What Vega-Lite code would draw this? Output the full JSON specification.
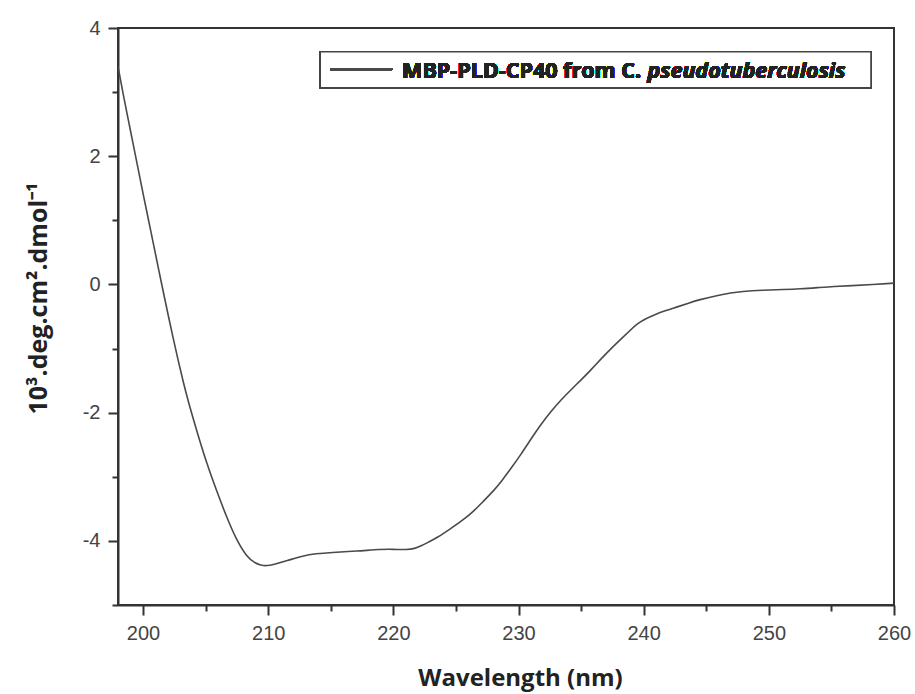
{
  "$schema": "https://vega.github.io/schema/vega-lite/v6.json",
  "width": 776,
  "height": 577,
  "autosize": "none",
  "padding": {"left": 118, "top": 28, "right": 21, "bottom": 89},
  "background": "white",
  "config": {
    "view": {"stroke": "#333333", "strokeWidth": 2},
    "axis": {"grid": false}
  },
  "data": {
    "values": [
      {"wavelength": 198.0, "value": 3.40},
      {"wavelength": 198.4, "value": 2.98},
      {"wavelength": 198.8, "value": 2.59},
      {"wavelength": 199.2, "value": 2.20},
      {"wavelength": 199.6, "value": 1.81},
      {"wavelength": 200.0, "value": 1.42},
      {"wavelength": 200.4, "value": 1.04},
      {"wavelength": 200.8, "value": 0.66},
      {"wavelength": 201.2, "value": 0.28},
      {"wavelength": 201.6, "value": -0.10},
      {"wavelength": 202.0, "value": -0.47},
      {"wavelength": 202.4, "value": -0.83},
      {"wavelength": 202.8, "value": -1.18},
      {"wavelength": 203.2, "value": -1.51},
      {"wavelength": 203.6, "value": -1.82},
      {"wavelength": 204.3, "value": -2.29},
      {"wavelength": 205.1, "value": -2.80},
      {"wavelength": 205.9, "value": -3.23},
      {"wavelength": 206.7, "value": -3.64},
      {"wavelength": 207.5, "value": -4.00},
      {"wavelength": 208.3, "value": -4.25},
      {"wavelength": 208.9, "value": -4.34},
      {"wavelength": 209.4, "value": -4.38},
      {"wavelength": 209.9, "value": -4.39},
      {"wavelength": 210.4, "value": -4.37},
      {"wavelength": 211.5, "value": -4.31},
      {"wavelength": 212.8, "value": -4.23},
      {"wavelength": 213.8, "value": -4.20},
      {"wavelength": 215.0, "value": -4.18},
      {"wavelength": 217.1, "value": -4.16},
      {"wavelength": 219.0, "value": -4.13},
      {"wavelength": 220.0, "value": -4.13},
      {"wavelength": 221.1, "value": -4.14},
      {"wavelength": 221.7, "value": -4.12},
      {"wavelength": 222.2, "value": -4.08},
      {"wavelength": 222.8, "value": -4.02},
      {"wavelength": 223.5, "value": -3.95},
      {"wavelength": 224.5, "value": -3.82},
      {"wavelength": 225.6, "value": -3.67},
      {"wavelength": 226.4, "value": -3.54},
      {"wavelength": 227.2, "value": -3.38},
      {"wavelength": 228.0, "value": -3.22},
      {"wavelength": 228.6, "value": -3.08},
      {"wavelength": 229.4, "value": -2.87},
      {"wavelength": 230.2, "value": -2.65},
      {"wavelength": 231.0, "value": -2.41},
      {"wavelength": 231.8, "value": -2.18},
      {"wavelength": 232.6, "value": -1.98},
      {"wavelength": 233.4, "value": -1.80},
      {"wavelength": 234.2, "value": -1.64},
      {"wavelength": 235.0, "value": -1.49},
      {"wavelength": 235.8, "value": -1.33},
      {"wavelength": 236.6, "value": -1.16},
      {"wavelength": 237.4, "value": -1.00},
      {"wavelength": 238.2, "value": -0.85},
      {"wavelength": 239.0, "value": -0.70},
      {"wavelength": 239.5, "value": -0.61},
      {"wavelength": 240.2, "value": -0.53},
      {"wavelength": 240.8, "value": -0.48},
      {"wavelength": 241.7, "value": -0.41},
      {"wavelength": 242.7, "value": -0.35},
      {"wavelength": 243.6, "value": -0.29},
      {"wavelength": 244.4, "value": -0.24},
      {"wavelength": 245.9, "value": -0.17},
      {"wavelength": 247.0, "value": -0.13},
      {"wavelength": 247.8, "value": -0.11},
      {"wavelength": 249.5, "value": -0.09},
      {"wavelength": 251.2, "value": -0.08},
      {"wavelength": 252.5, "value": -0.07},
      {"wavelength": 253.9, "value": -0.05},
      {"wavelength": 255.2, "value": -0.03},
      {"wavelength": 256.6, "value": -0.02},
      {"wavelength": 258.3, "value": 0.00},
      {"wavelength": 260.0, "value": 0.02}
    ]
  },
  "layer": [
    {
      "mark": {"type": "line", "interpolate": "basis", "color": "#4a4a4a", "strokeWidth": 1.6, "clip": true},
      "encoding": {
        "x": {
          "field": "wavelength", "type": "quantitative",
          "scale": {"domain": [198, 260], "nice": false, "zero": false},
          "axis": {
            "title": "Wavelength (nm)",
            "values": [200, 205, 210, 215, 220, 225, 230, 235, 240, 245, 250, 255, 260],
            "labelExpr": "datum.value % 10 === 0 ? '' + datum.value : ''",
            "tickSize": {"condition": {"test": "datum.value % 10 === 0", "value": 10}, "value": 6},
            "tickColor": "#333333", "tickWidth": 2,
            "domainColor": "#333333", "domainWidth": 2,
            "labelFont": "Liberation Sans", "labelFontSize": 20, "labelColor": "#444444",
            "labelPadding": 8, "labelFlush": false, "labelOverlap": false,
            "titleFont": "Open Sans", "titleFontSize": 24, "titleFontWeight": "bold", "titleColor": "#222222",
            "titleX": 402, "titleY": 80, "titleBaseline": "alphabetic", "titleAnchor": null, "titleAlign": "center"
          }
        },
        "y": {
          "field": "value", "type": "quantitative",
          "scale": {"domain": [-5, 4], "nice": false, "zero": false},
          "axis": {
            "title": "10³.deg.cm².dmol⁻¹",
            "values": [-5, -4, -3, -2, -1, 0, 1, 2, 3, 4],
            "labelExpr": "datum.value % 2 === 0 ? '' + datum.value : ''",
            "tickSize": {"condition": {"test": "datum.value % 2 === 0", "value": 10}, "value": 6},
            "tickColor": "#333333", "tickWidth": 2,
            "domainColor": "#333333", "domainWidth": 2,
            "labelFont": "Liberation Sans", "labelFontSize": 20, "labelColor": "#444444",
            "labelPadding": 8, "labelFlush": false, "labelOverlap": false,
            "titleFont": "Open Sans", "titleFontSize": 25, "titleFontWeight": "bold", "titleColor": "#222222",
            "titleX": -72, "titleY": 270, "titleBaseline": "alphabetic", "titleAngle": -90, "titleAlign": "center"
          }
        }
      }
    },
    {
      "mark": {"type": "rect", "fill": "white", "stroke": "#444444", "strokeWidth": 1.5},
      "encoding": {
        "x": {"datum": 214.16, "type": "quantitative"},
        "x2": {"datum": 258.16},
        "y": {"datum": 3.63, "type": "quantitative"},
        "y2": {"datum": 3.067}
      }
    },
    {
      "mark": {"type": "rule", "color": "#4a4a4a", "strokeWidth": 1.6},
      "encoding": {
        "x": {"datum": 214.98, "type": "quantitative"},
        "x2": {"datum": 219.9},
        "y": {"datum": 3.355, "type": "quantitative"}
      }
    },
    {
      "mark": {"type": "text", "text": "MBP-PLD-CP40 from C.", "font": "Open Sans", "fontSize": 21.5, "fontWeight": "bold", "align": "left", "baseline": "alphabetic", "color": "#222222"},
      "encoding": {
        "x": {"datum": 220.7, "type": "quantitative"},
        "y": {"datum": 3.219, "type": "quantitative"}
      }
    },
    {
      "mark": {"type": "text", "text": "pseudotuberculosis", "font": "Open Sans", "fontSize": 21.5, "fontWeight": "bold", "fontStyle": "italic", "align": "left", "baseline": "alphabetic", "color": "#222222"},
      "encoding": {
        "x": {"datum": 240.3, "type": "quantitative"},
        "y": {"datum": 3.219, "type": "quantitative"}
      }
    }
  ]
}
